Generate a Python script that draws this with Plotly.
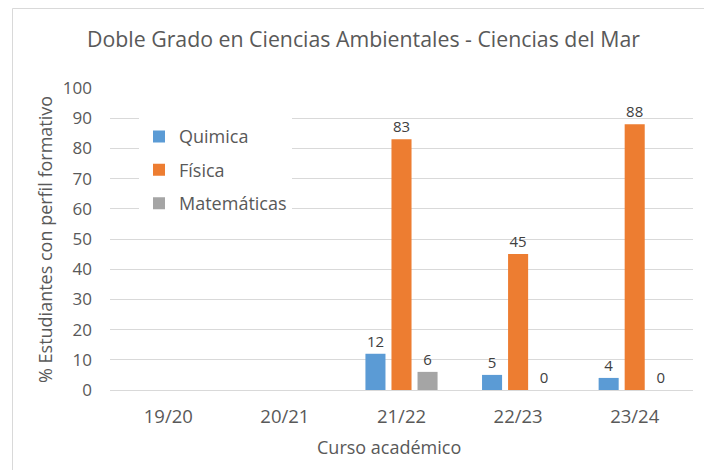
import plotly.graph_objects as go

categories = ["19/20", "20/21", "21/22", "22/23", "23/24"]
quimica = [None, None, 12, 5, 4]
fisica = [None, None, 83, 45, 88]
matematicas = [None, None, 6, 0, 0]

series = [
    ("Quimica", quimica, "#5B9BD5"),
    ("Física", fisica, "#ED7D31"),
    ("Matemáticas", matematicas, "#A5A5A5"),
]

FONT = "Open Sans"
TXT = "#595959"

fig = go.Figure()
for name, vals, col in series:
    fig.add_trace(go.Bar(
        x=categories, y=vals, name=name, legendgroup=name,
        marker=dict(color=col, line=dict(width=0)),
        text=[None if v is None else str(v) for v in vals],
        textposition="outside", cliponaxis=False,
        textfont=dict(family=FONT, size=15, color="#404040"),
    ))

fig.update_layout(
    width=704, height=470,
    margin=dict(l=110, r=11, t=88, b=80),
    paper_bgcolor="white", plot_bgcolor="white",
    font=dict(family=FONT, color=TXT, size=16),
    barmode="group", bargap=0.33, bargroupgap=0.23,
    showlegend=True,
    legend=dict(
        x=(139 - 110) / 583, y=0.90, xanchor="left", yanchor="top",
        bgcolor="white", traceorder="grouped", tracegroupgap=7,
        font=dict(family=FONT, size=18, color=TXT),
        itemwidth=30,
    ),
    xaxis=dict(
        showgrid=False, showline=True, linecolor="#D9D9D9", linewidth=1,
        ticks="", tickfont=dict(family=FONT, size=18.5, color=TXT),
        zeroline=False, ticklabelstandoff=10,
    ),
    yaxis=dict(
        range=[0, 100], dtick=10, showgrid=True, gridcolor="#D9D9D9",
        gridwidth=1, zeroline=False, showline=False, ticks="",
        tickfont=dict(family=FONT, size=17, color=TXT),
        ticklabelstandoff=17,
    ),
    annotations=[
        dict(text="Doble Grado en Ciencias Ambientales - Ciencias del Mar",
             xref="paper", yref="paper",
             x=(363 - 110) / 583, y=(390 - 39) / 302,
             xanchor="center", yanchor="middle", showarrow=False,
             font=dict(family=FONT, size=21.3, color=TXT)),
        dict(text="Curso académico",
             xref="paper", yref="paper",
             x=(389 - 110) / 583, y=(390 - 447) / 302,
             xanchor="center", yanchor="middle", showarrow=False,
             font=dict(family=FONT, size=18, color=TXT)),
        dict(text="% Estudiantes con perfil formativo",
             xref="paper", yref="paper", textangle=-90,
             x=(45 - 110) / 583, y=(390 - 240) / 302,
             xanchor="center", yanchor="middle", showarrow=False,
             font=dict(family=FONT, size=18, color=TXT)),
    ],
    shapes=[
        dict(type="rect", xref="paper", yref="paper",
             x0=(12.5 - 110) / 583, x1=1.2,
             y0=-0.5, y1=(390 - 8.5) / 302,
             line=dict(color="#D9D9D9", width=1), fillcolor="rgba(0,0,0,0)",
             layer="below"),
    ],
)

fig.write_html("out.html", config={"displayModeBar": False},
               post_script="document.body.style.margin='0px';document.body.style.overflow='hidden';")
